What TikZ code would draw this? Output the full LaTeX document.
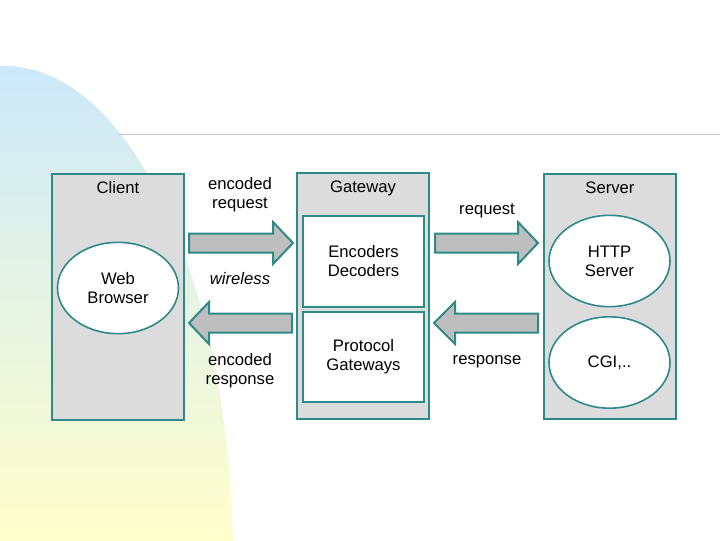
\documentclass[tikz,border=0pt]{standalone}
\usepackage{fontspec}
\setmainfont{Liberation Sans}
\usetikzlibrary{shapes.geometric}
\definecolor{tealline}{HTML}{2E8A87}
\definecolor{panelgray}{HTML}{DCDCDC}
\definecolor{arrowgray}{HTML}{BEBEBE}
\definecolor{skyblue}{HTML}{CCE8FA}
\definecolor{paleyellow}{HTML}{FFFFCC}
\definecolor{rulegray}{HTML}{C4C4C4}
\begin{document}
\begin{tikzpicture}[x=0.75pt,y=0.75pt,yscale=-1,xscale=1,
  every node/.style={font=\fontsize{12.5}{14.25}\selectfont,align=center},
  panel/.style={draw=tealline,line width=1.5pt,fill=panelgray,minimum width=99pt,minimum height=184pt,inner sep=0pt},
  unit/.style={draw=tealline,line width=1.5pt,fill=white,minimum width=90.75pt,minimum height=68pt,inner sep=0pt},
  blob/.style={ellipse,draw=tealline,line width=1.2pt,fill=white,minimum width=90.75pt,minimum height=68.5pt,inner sep=0pt},
  blockarrow/.style={draw=tealline,line width=1.5pt,fill=arrowgray,line join=miter}]
\useasboundingbox (0,0) rectangle (720,540);

%Shape: Background Swoosh
\begin{scope}
\clip (0,0) rectangle (720,540);
\clip (5,560) ellipse (228 and 494);
\shade[top color=skyblue,bottom color=paleyellow] (0,60) rectangle (240,540);
\end{scope}

%Straight Lines
\draw[rulegray,line width=0.75pt]    (118,134) -- (720,134) ;

%Shape: Rectangle
\node[panel] (client) at (118,297) {};
%Shape: Rectangle
\node[panel] (gateway) at (363,296) {};
%Shape: Rectangle
\node[panel] (server) at (610,296.5) {};

%Shape: Rectangle
\node[unit] (encoders) at (363.5,261.5) {Encoders\\Decoders};
%Shape: Rectangle
\node[unit] (protocols) at (363.5,357) {Protocol\\Gateways};

%Shape: Ellipse
\node[blob] (browser) at (118,288) {Web\\Browser};
%Shape: Ellipse
\node[blob] (http) at (609.5,261) {HTTP\\Server};
%Shape: Ellipse
\node[blob] (cgi) at (609.5,362.5) {CGI,..};

%Right Arrow
\draw[blockarrow] (189,233.5) -- (273,233.5) -- (273,222) -- (293,243) -- (273,264) -- (273,252.5) -- (189,252.5) -- cycle ;
%Left Arrow
\draw[blockarrow] (292,313.5) -- (209,313.5) -- (209,302) -- (189,323) -- (209,344) -- (209,332.5) -- (292,332.5) -- cycle ;
%Right Arrow
\draw[blockarrow] (435,233.5) -- (518,233.5) -- (518,222) -- (538,243) -- (518,264) -- (518,252.5) -- (435,252.5) -- cycle ;
%Left Arrow
\draw[blockarrow] (538,313.5) -- (455,313.5) -- (455,302) -- (434,323) -- (455,344) -- (455,332.5) -- (538,332.5) -- cycle ;

% Text Node
\node (clientlbl) at (118,188) {Client};
% Text Node
\node (gatewaylbl) at (363,188) {Gateway};
% Text Node
\node (serverlbl) at (610,188) {Server};
% Text Node
\node (encreq) at (240,194.5) {encoded\\request};
% Text Node
\node (wireless) at (240,279) {\itshape wireless};
% Text Node
\node (encresp) at (240,370.5) {encoded\\response};
% Text Node
\node (req) at (487,211) {request};
% Text Node
\node (resp) at (487,362) {response};

\end{tikzpicture}
\end{document}
